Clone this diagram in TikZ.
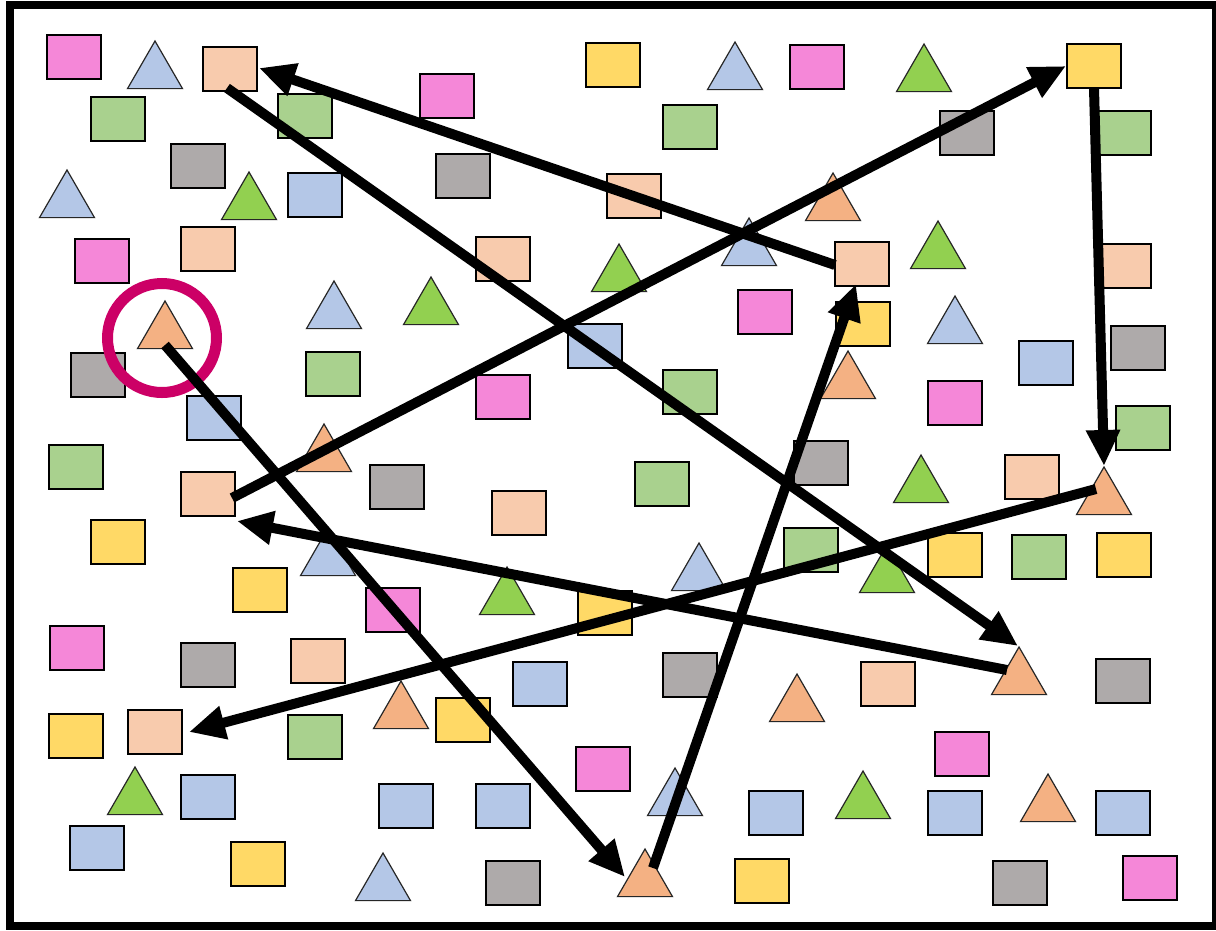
\documentclass[tikz,border=0pt]{standalone}
\usetikzlibrary{shapes.geometric,arrows.meta}
\definecolor{cpink}{HTML}{F587D8}
\definecolor{cblue}{HTML}{B4C7E7}
\definecolor{cpeach}{HTML}{F8CBAD}
\definecolor{cgreen}{HTML}{A9D18E}
\definecolor{cgray}{HTML}{AEAAAA}
\definecolor{cyellow}{HTML}{FFD966}
\definecolor{tgreen}{HTML}{92D050}
\definecolor{torange}{HTML}{F4B183}
\definecolor{cring}{HTML}{CC0066}
\tikzset{
  rbox/.style={draw=black,line width=2pt,inner sep=0pt,minimum width=54pt,minimum height=44pt},
  tribox/.style={draw=black!85,line width=1.2pt,regular polygon,regular polygon sides=3,inner sep=0pt,minimum size=63.5pt},
  bigarrow/.style={line width=10pt,-{Triangle[length=36pt,width=32pt]}},
  ringstyle/.style={draw=cring,line width=11pt,circle,inner sep=0pt,minimum size=109pt}
}
\newcommand\rbx[4]{\node[rbox,fill=#4] (#1) at (#2+28,#3+23) {};}
\newcommand\trg[4]{\node[tribox,fill=#4] (#1) at (#2,#3+31.75) {};}
\begin{document}
\begin{tikzpicture}[x=1pt,y=-1pt]
\useasboundingbox (0,0) rectangle (1216,930);
\fill[white] (0,0) rectangle (1216,930);
% pink rectangles
\rbx{p1}{46}{34}{cpink}\rbx{p2}{419}{73}{cpink}\rbx{p3}{789}{44}{cpink}
\rbx{p4}{74}{238}{cpink}\rbx{p5}{737}{289}{cpink}\rbx{p6}{475}{374}{cpink}
\rbx{p7}{927}{380}{cpink}\rbx{p8}{365}{587}{cpink}\rbx{p9}{49}{625}{cpink}
\rbx{p10}{575}{746}{cpink}\rbx{p11}{934}{731}{cpink}\rbx{p12}{1122}{855}{cpink}
% blue rectangles
\rbx{b1}{287}{172}{cblue}\rbx{b2}{567}{323}{cblue}\rbx{b3}{1018}{340}{cblue}
\rbx{b4}{186}{395}{cblue}\rbx{b5}{512}{661}{cblue}\rbx{b6}{180}{774}{cblue}
\rbx{b7}{378}{783}{cblue}\rbx{b8}{475}{783}{cblue}\rbx{b9}{748}{790}{cblue}
\rbx{b10}{927}{790}{cblue}\rbx{b11}{1095}{790}{cblue}\rbx{b12}{69}{825}{cblue}
% peach rectangles
\rbx{e1}{202}{46}{cpeach}\rbx{e2}{606}{173}{cpeach}\rbx{e3}{180}{226}{cpeach}
\rbx{e4}{475}{236}{cpeach}\rbx{e5}{834}{241}{cpeach}\rbx{e6}{1096}{243}{cpeach}
\rbx{e7}{180}{471}{cpeach}\rbx{e8}{491}{490}{cpeach}\rbx{e9}{1004}{454}{cpeach}
\rbx{e10}{290}{638}{cpeach}\rbx{e11}{127}{709}{cpeach}\rbx{e12}{860}{661}{cpeach}
% green rectangles
\rbx{g1}{90}{96}{cgreen}\rbx{g2}{277}{93}{cgreen}\rbx{g3}{662}{104}{cgreen}
\rbx{g4}{1096}{110}{cgreen}\rbx{g5}{305}{351}{cgreen}\rbx{g6}{662}{369}{cgreen}
\rbx{g7}{1115}{405}{cgreen}\rbx{g8}{48}{444}{cgreen}\rbx{g9}{634}{461}{cgreen}
\rbx{g10}{783}{527}{cgreen}\rbx{g11}{1011}{534}{cgreen}\rbx{g12}{287}{714}{cgreen}
% gray rectangles
\rbx{a1}{170}{143}{cgray}\rbx{a2}{435}{153}{cgray}\rbx{a3}{939}{110}{cgray}
\rbx{a4}{70}{352}{cgray}\rbx{a5}{1110}{325}{cgray}\rbx{a6}{369}{464}{cgray}
\rbx{a7}{793}{440}{cgray}\rbx{a8}{180}{642}{cgray}\rbx{a9}{662}{652}{cgray}
\rbx{a10}{1095}{658}{cgray}\rbx{a11}{485}{860}{cgray}\rbx{a12}{992}{860}{cgray}
% yellow rectangles
\rbx{y1}{585}{42}{cyellow}\rbx{y2}{1066}{43}{cyellow}\rbx{y3}{835}{301}{cyellow}
\rbx{y4}{90}{519}{cyellow}\rbx{y5}{232}{567}{cyellow}\rbx{y6}{577}{590}{cyellow}
\rbx{y7}{927}{532}{cyellow}\rbx{y8}{1096}{532}{cyellow}\rbx{y9}{48}{713}{cyellow}
\rbx{y10}{435}{697}{cyellow}\rbx{y11}{230}{841}{cyellow}\rbx{y12}{734}{858}{cyellow}
% blue triangles
\trg{tb1}{155}{41}{cblue}\trg{tb2}{735}{42}{cblue}\trg{tb3}{67}{170}{cblue}
\trg{tb4}{749}{218}{cblue}\trg{tb5}{334}{281}{cblue}\trg{tb6}{955}{296}{cblue}
\trg{tb7}{328}{528}{cblue}\trg{tb8}{699}{543}{cblue}\trg{tb9}{675}{768}{cblue}
\trg{tb10}{383}{853}{cblue}
% green triangles
\trg{tg1}{924}{44}{tgreen}\trg{tg2}{249}{172}{tgreen}\trg{tg3}{619}{244}{tgreen}
\trg{tg4}{938}{221}{tgreen}\trg{tg5}{431}{277}{tgreen}\trg{tg6}{921}{455}{tgreen}
\trg{tg7}{887}{545}{tgreen}\trg{tg8}{507}{567}{tgreen}\trg{tg9}{135}{767}{tgreen}
\trg{tg10}{863}{771}{tgreen}
% orange triangles
\trg{to1}{833}{173}{torange}\trg{to2}{165}{301}{torange}\trg{to3}{848}{351}{torange}
\trg{to4}{324}{424}{torange}\trg{to5}{1104}{467}{torange}\trg{to6}{1019}{647}{torange}
\trg{to7}{401}{681}{torange}\trg{to8}{797}{674}{torange}\trg{to9}{1048}{774}{torange}
\trg{to10}{645}{849}{torange}
% highlight ring
\node[ringstyle] (ring) at (162,338) {};
% frame
\draw[line width=8pt] (9.5,5) rectangle (1215.5,926);
% arrow end points
\coordinate (s1) at (835,265); \coordinate (e1t) at (259,68);
\coordinate (s2) at (227,88);  \coordinate (e2t) at (1018,646);
\coordinate (s3) at (232,498); \coordinate (e3t) at (1066,66);
\coordinate (s4) at (1094,88); \coordinate (e4t) at (1104,466);
\coordinate (s5) at (1096,489);\coordinate (e5t) at (189,732);
\coordinate (s6) at (1007,670);\coordinate (e6t) at (237,521);
\coordinate (s7) at (165,345); \coordinate (e7t) at (625,877);
\coordinate (s8) at (653,868); \coordinate (e8t) at (856,284);
\draw[bigarrow] (s1) -- (e1t);
\draw[bigarrow] (s2) -- (e2t);
\draw[bigarrow] (s3) -- (e3t);
\draw[bigarrow] (s4) -- (e4t);
\draw[bigarrow] (s5) -- (e5t);
\draw[bigarrow] (s6) -- (e6t);
\draw[bigarrow] (s7) -- (e7t);
\draw[bigarrow] (s8) -- (e8t);
\end{tikzpicture}
\end{document}
